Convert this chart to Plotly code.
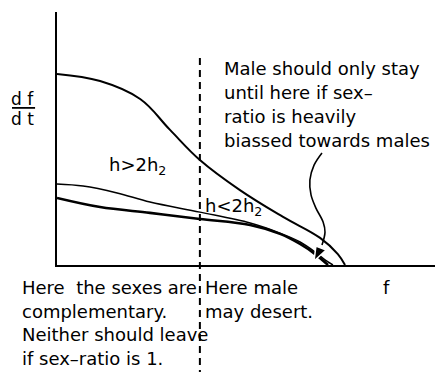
import plotly.graph_objects as go

# Curves of df/dt against f (f and df/dt in relative units, 0..1)
f_high = [0, 0.114, 0.220, 0.299, 0.378, 0.484, 0.598, 0.696, 0.743, 0.762]
rate_high = [0.755, 0.727, 0.656, 0.534, 0.415, 0.296, 0.190, 0.107, 0.043, 0]

f_low_a = [0, 0.069, 0.159, 0.246, 0.378, 0.511, 0.590, 0.643, 0.683, 0.709, 0.730]
rate_low_a = [0.320, 0.312, 0.285, 0.249, 0.209, 0.166, 0.126, 0.091, 0.051, 0.020, 0]

f_low_b = [0, 0.114, 0.246, 0.378, 0.511, 0.590, 0.643, 0.683, 0.717]
rate_low_b = [0.265, 0.229, 0.206, 0.182, 0.158, 0.123, 0.083, 0.043, 0]

# Threshold separating the two regimes
f_split = 0.378

# Curved pointer to the end of the curves
pointer_f = [0.701, 0.680, 0.669, 0.672, 0.685, 0.704, 0.709, 0.701]
pointer_rate = [0.443, 0.395, 0.336, 0.277, 0.225, 0.170, 0.130, 0.079]
head_f = [0.685, 0.712, 0.680, 0.685]
head_rate = [0.075, 0.059, 0.016, 0.075]

FONT = "DejaVu Sans"
fig = go.Figure()

fig.add_trace(go.Scatter(x=f_high, y=rate_high, mode="lines",
                         line=dict(color="black", width=2, shape="spline", smoothing=1.1),
                         hoverinfo="skip"))
fig.add_trace(go.Scatter(x=f_low_a, y=rate_low_a, mode="lines",
                         line=dict(color="black", width=1.5, shape="spline"), hoverinfo="skip"))
fig.add_trace(go.Scatter(x=f_low_b, y=rate_low_b, mode="lines",
                         line=dict(color="black", width=2.6, shape="spline"), hoverinfo="skip"))
fig.add_trace(go.Scatter(x=pointer_f, y=pointer_rate, mode="lines",
                         line=dict(color="black", width=1.6, shape="spline"), hoverinfo="skip"))
fig.add_trace(go.Scatter(x=head_f, y=head_rate, mode="lines", fill="toself",
                         fillcolor="black", line=dict(color="white", width=1.5), hoverinfo="skip"))

# dashed divider, running below the axis into the caption area
fig.add_shape(type="line", xref="paper", yref="paper", x0=f_split, x1=f_split,
              y0=0.818, y1=-0.43, line=dict(color="black", width=2, dash="7px,5px"))

# df/dt axis label drawn as a fraction
fig.add_annotation(x=-0.090, y=0.656, xref="paper", yref="paper", text="d f",
                   showarrow=False, xanchor="center", yanchor="middle",
                   font=dict(family=FONT, size=17, color="black"))
fig.add_annotation(x=-0.090, y=0.577, xref="paper", yref="paper", text="d t",
                   showarrow=False, xanchor="center", yanchor="middle",
                   font=dict(family=FONT, size=17, color="black"))
fig.add_shape(type="line", xref="paper", yref="paper", x0=-0.119, x1=-0.058,
              y0=0.621, y1=0.621, line=dict(color="black", width=1.8))


def label(x, y, text, anchor="left"):
    fig.add_annotation(x=x, y=y, xref="paper", yref="paper", text=text, showarrow=False,
                       xanchor=anchor, yanchor="middle",
                       font=dict(family=FONT, size=18, color="black"))


label(0.212, 0.391, "h>2h<sub>2</sub>", "center")
label(0.386, 0.229, "h<2h<sub>2</sub>")

note = ["Male should only stay", "until here if sex\u2013", "ratio is heavily",
        "biassed towards males"]
for i, line in enumerate(note):
    label(0.436, 0.775 - i * 0.094, line)

left_caption = ["Here  the sexes are", "complementary.", "Neither should leave",
                "if sex\u2013ratio is 1."]
for i, line in enumerate(left_caption):
    label(-0.098, -0.09 - i * 0.093, line)

right_caption = ["Here male", "may desert."]
for i, line in enumerate(right_caption):
    label(0.386, -0.09 - i * 0.093, line)

label(0.872, -0.088, "f", "center")

fig.update_layout(
    width=435, height=372,
    margin=dict(l=57, r=0, t=12, b=107),
    paper_bgcolor="white", plot_bgcolor="white",
    showlegend=False,
    xaxis=dict(range=[0, 1], showline=True, linecolor="black", linewidth=2,
               showgrid=False, zeroline=False, showticklabels=False, ticks=""),
    yaxis=dict(range=[0, 1], showline=True, linecolor="black", linewidth=2,
               showgrid=False, zeroline=False, showticklabels=False, ticks=""),
)

fig.write_html("out.html")
